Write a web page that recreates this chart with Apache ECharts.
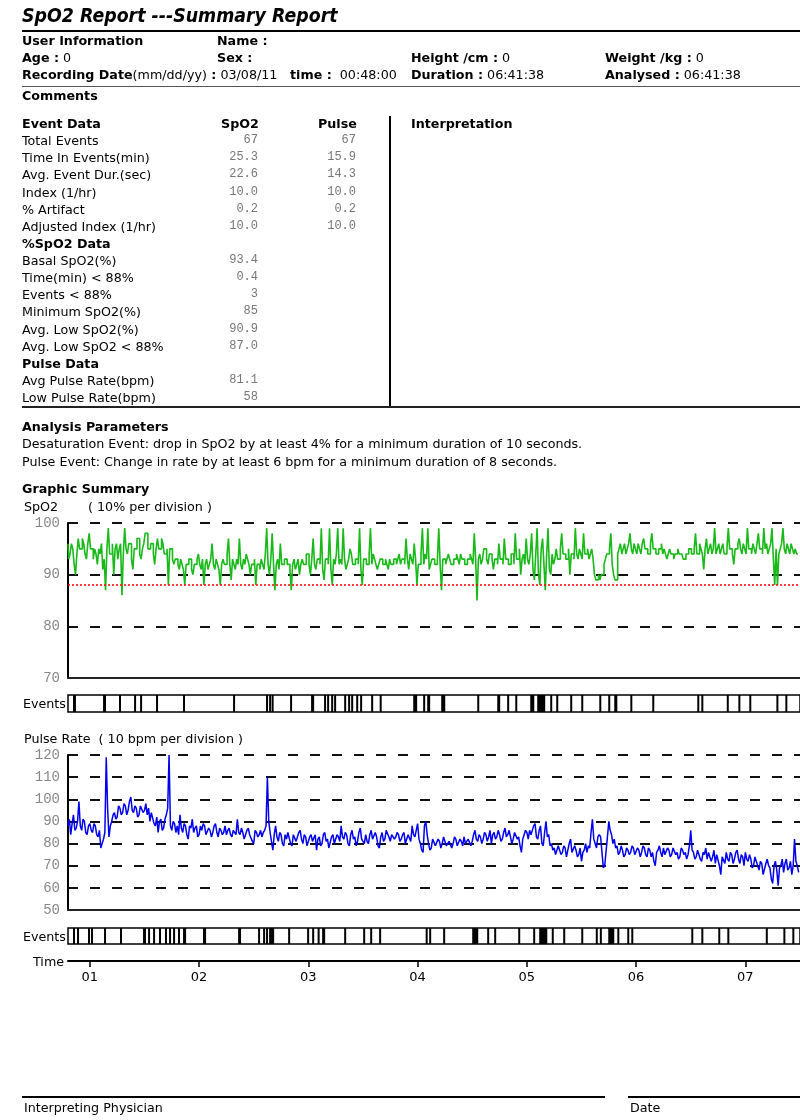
<!DOCTYPE html>
<html>
<head>
<meta charset="utf-8">
<script src="https://cdn.jsdelivr.net/npm/echarts@6/dist/echarts.min.js"></script>
<style>
body { margin: 0; background: #fff; }
#page { position: relative; width: 800px; height: 1120px; overflow: hidden; }
#chart { position: absolute; left: 0; top: 0; width: 800px; height: 1120px; }
.t { position: absolute; font-family: 'DejaVu Sans', Verdana, sans-serif; font-size: 12.7px; line-height: 14px; white-space: pre; color: #000; }
.b { font-weight: bold; }
.v { position: absolute; font-family: 'Liberation Mono', 'DejaVu Sans Mono', monospace; font-size: 12px; line-height: 14px; color: #777; text-align: right; width: 60px; }
.ln { position: absolute; background: #000; }
</style>
</head>
<body>
<div id="page">
<div id="chart"></div>

<div class="t b" style="left:22px;top:4px;font-size:19px;line-height:22px;font-style:italic;transform:scaleX(0.915);transform-origin:left top;">SpO2 Report ---Summary Report</div>
<div class="ln" style="left:22px;top:30px;width:778px;height:2px;"></div>

<div class="t b" style="left:22px;top:34px;">User Information</div>
<div class="t b" style="left:217px;top:34px;">Name :</div>
<div class="t" style="left:22px;top:51px;"><b>Age :</b> 0</div>
<div class="t b" style="left:217px;top:51px;">Sex :</div>
<div class="t" style="left:411px;top:51px;"><b>Height /cm :</b> 0</div>
<div class="t" style="left:605px;top:51px;"><b>Weight /kg :</b> 0</div>
<div class="t" style="left:22px;top:68px;"><b>Recording Date</b>(mm/dd/yy)<b> :</b> 03/08/11</div>
<div class="t" style="left:290px;top:68px;"><b>time :</b>  00:48:00</div>
<div class="t" style="left:411px;top:68px;"><b>Duration :</b> 06:41:38</div>
<div class="t" style="left:605px;top:68px;"><b>Analysed :</b> 06:41:38</div>
<div class="ln" style="left:22px;top:86px;width:778px;height:1px;background:#555;"></div>
<div class="t b" style="left:22px;top:89px;">Comments</div>

<div id="table"></div>
<div class="t b" style="left:221px;top:117px;">SpO2</div>
<div class="t b" style="left:318px;top:117px;">Pulse</div>
<div class="t b" style="left:411px;top:117px;">Interpretation</div>
<div class="ln" style="left:389px;top:116px;width:2px;height:291px;"></div>
<div class="ln" style="left:22px;top:406px;width:778px;height:2px;background:#222;"></div>

<div class="t b" style="left:22px;top:420px;">Analysis Parameters</div>
<div class="t" style="left:22px;top:437px;">Desaturation Event: drop in SpO2 by at least 4% for a minimum duration of 10 seconds.</div>
<div class="t" style="left:22px;top:455px;">Pulse Event: Change in rate by at least 6 bpm for a minimum duration of 8 seconds.</div>

<div class="t b" style="left:22px;top:482px;">Graphic Summary</div>
<div class="t" style="left:24px;top:500px;">SpO2</div>
<div class="t" style="left:88px;top:500px;">( 10% per division )</div>
<div class="t" style="left:23px;top:697px;">Events</div>
<div class="t" style="left:24px;top:732px;">Pulse Rate  ( 10 bpm per division )</div>
<div class="t" style="left:23px;top:930px;">Events</div>
<div class="t" style="left:33px;top:955px;">Time</div>

<div class="ln" style="left:22px;top:1096px;width:583px;height:2px;"></div>
<div class="ln" style="left:628px;top:1096px;width:172px;height:2px;"></div>
<div class="t" style="left:24px;top:1101px;">Interpreting Physician</div>
<div class="t" style="left:630px;top:1101px;">Date</div>
</div>

<script>
// summary table
var tableLabels = ['Event Data', 'Total Events', 'Time In Events(min)', 'Avg. Event Dur.(sec)', 'Index (1/hr)',
	'% Artifact', 'Adjusted Index (1/hr)', '%SpO2 Data', 'Basal SpO2(%)', 'Time(min) < 88%', 'Events < 88%',
	'Minimum SpO2(%)', 'Avg. Low SpO2(%)', 'Avg. Low SpO2 < 88%', 'Pulse Data', 'Avg Pulse Rate(bpm)', 'Low Pulse Rate(bpm)'];
var tableBold = [0, 7, 14];
var spo2Column = ['', '67', '25.3', '22.6', '10.0', '0.2', '10.0', '', '93.4', '0.4', '3', '85', '90.9', '87.0', '', '81.1', '58'];
var pulseColumn = ['', '67', '15.9', '14.3', '10.0', '0.2', '10.0', '', '', '', '', '', '', '', '', '', ''];

// recording starts 00:48, one sample every 45 s
var startHour = 0.8;
var sampleStep = 0.0125;
var endHour = 7.5;

var spo2Values = [
	96, 93, 94, 96, 95, 92, 90, 94, 97, 95, 95, 97, 96, 94, 93, 96, 98, 95, 95, 93,
	95, 94, 92, 95, 94, 96, 91, 93, 87, 95, 99, 94, 94, 96, 90, 95, 96, 93, 95, 96,
	86, 94, 99, 95, 94, 96, 96, 93, 91, 95, 95, 97, 97, 94, 93, 95, 96, 98, 98, 95,
	95, 96, 96, 94, 92, 95, 97, 95, 95, 97, 96, 94, 94, 95, 88, 95, 95, 93, 92, 93,
	93, 92, 91, 93, 92, 91, 88, 92, 92, 93, 93, 91, 90, 92, 92, 93, 94, 92, 91, 93,
	88, 92, 93, 91, 92, 93, 96, 92, 91, 93, 92, 91, 88, 92, 93, 92, 92, 94, 97, 92,
	89, 93, 92, 91, 93, 92, 97, 92, 91, 93, 92, 94, 93, 92, 90, 92, 92, 93, 88, 92,
	92, 91, 93, 92, 91, 94, 99, 92, 90, 93, 98, 92, 87, 92, 93, 91, 96, 92, 92, 93,
	93, 92, 92, 91, 87, 92, 93, 91, 92, 93, 90, 92, 93, 92, 92, 94, 94, 92, 90, 93,
	97, 92, 91, 93, 93, 92, 99, 91, 89, 93, 93, 92, 99, 91, 88, 93, 92, 94, 99, 92,
	93, 92, 99, 93, 91, 92, 93, 95, 94, 92, 92, 93, 93, 92, 99, 91, 88, 93, 93, 92,
	92, 94, 99, 92, 94, 93, 92, 91, 92, 93, 93, 92, 92, 93, 92, 91, 93, 92, 92, 93,
	93, 92, 93, 94, 92, 93, 93, 92, 97, 93, 91, 94, 93, 92, 96, 93, 88, 92, 92, 94,
	99, 92, 94, 93, 99, 91, 92, 93, 93, 92, 92, 93, 99, 92, 87, 93, 93, 92, 93, 94,
	93, 92, 92, 93, 93, 94, 93, 92, 94, 93, 93, 92, 92, 93, 93, 94, 93, 92, 98, 93,
	85, 93, 94, 92, 93, 95, 95, 93, 92, 94, 94, 93, 91, 93, 93, 92, 96, 93, 93, 92,
	97, 93, 93, 92, 92, 94, 94, 92, 98, 93, 93, 95, 90, 93, 94, 92, 97, 93, 92, 94,
	98, 91, 89, 94, 99, 90, 88, 95, 97, 92, 87, 94, 99, 91, 90, 94, 92, 93, 95, 93,
	93, 95, 98, 94, 94, 93, 93, 95, 90, 94, 94, 93, 99, 94, 93, 95, 94, 93, 98, 94,
	94, 95, 93, 94, 95, 93, 90, 89, 89, 90, 89, 90, 90, 92, 93, 94, 94, 95, 98, 92,
	90, 89, 89, 94, 95, 96, 94, 95, 96, 94, 95, 96, 98, 95, 94, 96, 95, 94, 96, 95,
	94, 96, 97, 95, 95, 94, 94, 96, 98, 95, 95, 94, 94, 95, 95, 96, 94, 95, 94, 93,
	94, 95, 94, 94, 93, 94, 94, 95, 94, 94, 94, 93, 93, 94, 94, 95, 95, 94, 94, 95,
	98, 94, 94, 96, 95, 94, 91, 95, 97, 94, 95, 96, 94, 95, 99, 94, 95, 96, 94, 95,
	96, 94, 94, 95, 99, 95, 95, 94, 92, 95, 95, 96, 97, 95, 94, 96, 95, 94, 99, 95,
	95, 94, 96, 95, 94, 96, 98, 95, 95, 94, 99, 95, 96, 94, 95, 96, 99, 93, 88, 95,
	88, 94, 95, 96, 99, 95, 94, 96, 95, 94, 96, 95, 94, 95, 94, 94
];

var pulseValues = [
	88, 91, 84, 89, 93, 86, 87, 90, 99, 88, 86, 91, 90, 85, 84, 88, 89, 86, 85, 89,
	88, 84, 83, 86, 78, 80, 82, 85, 119, 96, 83, 88, 90, 93, 94, 91, 92, 97, 96, 93,
	94, 98, 97, 93, 95, 99, 101, 95, 94, 97, 96, 92, 93, 97, 97, 94, 95, 98, 93, 96,
	90, 94, 94, 89, 88, 92, 85, 90, 91, 86, 87, 91, 93, 96, 120, 88, 86, 90, 89, 85,
	88, 84, 93, 87, 85, 89, 88, 84, 82, 88, 87, 91, 85, 87, 88, 83, 84, 88, 86, 89,
	88, 84, 84, 87, 86, 83, 85, 88, 89, 85, 83, 87, 86, 84, 85, 88, 84, 86, 87, 84,
	83, 86, 86, 84, 91, 85, 84, 87, 85, 82, 82, 86, 87, 84, 84, 81, 80, 86, 85, 83,
	84, 86, 83, 85, 86, 88, 110, 90, 85, 81, 77, 84, 88, 83, 81, 85, 84, 80, 79, 84,
	82, 85, 85, 80, 79, 84, 84, 81, 81, 85, 86, 82, 80, 84, 83, 79, 79, 83, 84, 81,
	81, 84, 77, 82, 83, 79, 80, 84, 85, 81, 82, 78, 78, 83, 84, 80, 80, 84, 83, 81,
	88, 83, 82, 85, 84, 80, 79, 84, 86, 82, 83, 79, 81, 85, 87, 82, 82, 80, 84, 81,
	80, 84, 86, 82, 82, 85, 83, 79, 78, 83, 85, 81, 82, 86, 86, 83, 81, 84, 84, 82,
	83, 85, 84, 81, 82, 84, 85, 80, 80, 84, 84, 81, 88, 84, 83, 86, 89, 82, 80, 77,
	76, 88, 90, 84, 80, 77, 78, 82, 82, 79, 79, 82, 81, 78, 80, 83, 83, 79, 79, 81,
	81, 78, 80, 83, 82, 79, 79, 82, 81, 79, 83, 80, 80, 82, 82, 79, 81, 84, 86, 82,
	81, 84, 83, 80, 82, 85, 84, 81, 83, 86, 80, 84, 85, 82, 83, 86, 84, 81, 82, 85,
	87, 83, 84, 86, 83, 80, 82, 85, 85, 82, 83, 79, 76, 82, 84, 86, 85, 82, 86, 84,
	84, 88, 89, 83, 82, 86, 88, 80, 79, 85, 90, 83, 84, 79, 80, 77, 78, 75, 77, 79,
	79, 75, 76, 79, 78, 74, 77, 80, 82, 76, 76, 79, 77, 74, 75, 78, 72, 76, 77, 80,
	76, 79, 78, 85, 91, 82, 80, 78, 83, 84, 83, 76, 69, 70, 70, 83, 90, 86, 84, 80,
	82, 78, 79, 75, 76, 79, 77, 74, 75, 78, 77, 75, 76, 79, 78, 75, 75, 78, 77, 74,
	76, 79, 78, 75, 74, 78, 77, 74, 76, 72, 70, 76, 77, 79, 76, 74, 78, 75, 75, 78,
	77, 74, 75, 78, 78, 75, 76, 73, 74, 78, 77, 75, 76, 73, 75, 79, 86, 77, 76, 73,
	74, 77, 77, 73, 72, 76, 75, 78, 73, 76, 76, 72, 74, 77, 71, 75, 75, 70, 66, 74,
	74, 71, 76, 73, 72, 76, 75, 71, 73, 76, 77, 73, 71, 75, 74, 70, 76, 73, 72, 75,
	73, 69, 70, 74, 74, 70, 68, 72, 71, 66, 66, 71, 73, 70, 69, 64, 62, 70, 72, 68,
	61, 69, 70, 73, 67, 71, 73, 68, 69, 72, 66, 70, 82, 72, 70, 67
];

// events as [start hour, end hour]
var spo2Events = [
	[0.855, 0.882], [1.130, 1.157], [1.276, 1.276], [1.414, 1.414], [1.469, 1.469], [1.615, 1.615],
	[1.862, 1.862], [2.320, 2.320], [2.622, 2.622], [2.650, 2.650], [2.673, 2.673], [2.842, 2.842],
	[3.034, 3.062], [3.153, 3.153], [3.181, 3.199], [3.218, 3.218], [3.245, 3.263], [3.337, 3.346],
	[3.373, 3.373], [3.401, 3.419], [3.447, 3.447], [3.483, 3.483], [3.584, 3.584], [3.662, 3.662],
	[3.969, 4.005], [4.060, 4.060], [4.097, 4.124], [4.225, 4.262], [4.555, 4.555], [4.738, 4.765],
	[4.829, 4.829], [4.903, 4.903], [5.040, 5.077], [5.104, 5.177], [5.223, 5.223], [5.278, 5.278],
	[5.406, 5.406], [5.507, 5.507], [5.672, 5.672], [5.754, 5.754], [5.809, 5.837], [5.956, 5.956],
	[6.157, 6.157], [6.569, 6.569], [6.606, 6.606], [6.839, 6.839], [6.945, 6.945], [7.045, 7.045],
	[7.293, 7.293], [7.375, 7.375]
];
var pulseEvents = [
	[0.855, 0.855], [0.892, 0.892], [0.992, 0.992], [1.020, 1.020], [1.139, 1.139], [1.285, 1.285],
	[1.496, 1.523], [1.542, 1.542], [1.588, 1.588], [1.642, 1.642], [1.697, 1.697], [1.734, 1.734],
	[1.771, 1.771], [1.816, 1.816], [1.862, 1.890], [2.045, 2.073], [2.366, 2.393], [2.549, 2.549],
	[2.595, 2.595], [2.622, 2.622], [2.650, 2.696], [2.824, 2.824], [2.998, 3.016], [3.044, 3.062],
	[3.094, 3.094], [3.135, 3.163], [3.337, 3.337], [3.511, 3.511], [3.575, 3.575], [3.657, 3.657],
	[4.083, 4.083], [4.115, 4.115], [4.243, 4.243], [4.509, 4.564], [4.646, 4.646], [4.710, 4.710],
	[4.930, 4.930], [5.067, 5.067], [5.122, 5.196], [5.237, 5.237], [5.342, 5.342], [5.507, 5.507],
	[5.640, 5.640], [5.677, 5.677], [5.754, 5.809], [5.837, 5.837], [5.928, 5.928], [5.965, 5.965],
	[6.514, 6.514], [6.606, 6.606], [6.761, 6.761], [6.844, 6.844], [7.196, 7.196], [7.357, 7.357],
	[7.439, 7.439]
];

var hourTicks = [1, 2, 3, 4, 5, 6, 7];
var desatLimit = 88;

// table text
var tableBox = document.getElementById('table');
var html = '';
for (var i = 0; i < tableLabels.length; i++) {
	var rowTop = Math.round(117 + i * 17.125);
	var bold = tableBold.indexOf(i) >= 0 ? ' b' : '';
	html += '<div class="t' + bold + '" style="left:22px;top:' + rowTop + 'px;">' + tableLabels[i].replace(/</g, '&lt;') + '</div>';
	if (spo2Column[i]) html += '<div class="v" style="left:198px;top:' + (rowTop - 1) + 'px;">' + spo2Column[i] + '</div>';
	if (pulseColumn[i]) html += '<div class="v" style="left:296px;top:' + (rowTop - 1) + 'px;">' + pulseColumn[i] + '</div>';
}
tableBox.innerHTML = html;

function series(values) {
	var out = [];
	for (var i = 0; i < values.length; i++) {
		out.push([startHour + i * sampleStep, values[i]]);
	}
	return out;
}

function renderEvent(params, api) {
	var a = api.coord([api.value(0), 0]);
	var b = api.coord([api.value(1), 0]);
	var cs = params.coordSys;
	var w = Math.max(b[0] - a[0], 2);
	return {
		type : 'rect',
		shape : { x : a[0] - 1, y : cs.y, width : w, height : cs.height },
		style : { fill : '#000' }
	};
}

var dash = { color : '#111', width : 2, type : [ 10, 12 ] };
var tickFont = { color : '#888', fontFamily : 'Liberation Mono', fontSize : 14, margin : 8 };

var hiddenX = function(idx) {
	return {
		type : 'value', gridIndex : idx, min : startHour, max : endHour,
		axisLine : { show : idx === 0 || idx === 2, onZero : false, lineStyle : { color : '#222', width : 2 } },
		axisTick : { show : false }, axisLabel : { show : false }, splitLine : { show : false }
	};
};

var chart = echarts.init(document.getElementById('chart'), null, { renderer : 'canvas' });
var option = {
	animation : false,
	backgroundColor : 'transparent',
	grid : [
		{ left : 68, top : 523, width : 732, height : 155 },
		{ left : 68, top : 695, width : 732, height : 17, show : true, borderColor : '#000', borderWidth : 1.5 },
		{ left : 68, top : 755, width : 732, height : 155 },
		{ left : 68, top : 928, width : 732, height : 16, show : true, borderColor : '#000', borderWidth : 1.5 }
	],
	xAxis : [
		hiddenX(0), hiddenX(1), hiddenX(2),
		{
			type : 'value', gridIndex : 3, min : startHour, max : endHour, position : 'bottom', offset : 17,
			axisLine : { show : true, onZero : false, lineStyle : { color : '#000', width : 2 } },
			axisTick : { show : true, customValues : hourTicks, length : 6, lineStyle : { color : '#000', width : 1.5 } },
			axisLabel : {
				customValues : hourTicks, color : '#000', fontFamily : 'DejaVu Sans', fontSize : 13, margin : 10,
				formatter : function(v) { return (v < 10 ? '0' : '') + v; }
			},
			splitLine : { show : false }
		}
	],
	yAxis : [
		{
			type : 'value', gridIndex : 0, min : 70, max : 100, interval : 10,
			axisLine : { show : true, lineStyle : { color : '#000', width : 2 } },
			axisTick : { show : false }, axisLabel : tickFont,
			splitLine : { show : true, lineStyle : dash }
		},
		{ type : 'value', gridIndex : 1, min : 0, max : 1, show : false },
		{
			type : 'value', gridIndex : 2, min : 50, max : 120, interval : 10,
			axisLine : { show : true, lineStyle : { color : '#000', width : 2 } },
			axisTick : { show : false }, axisLabel : tickFont,
			splitLine : { show : true, lineStyle : dash }
		},
		{ type : 'value', gridIndex : 3, min : 0, max : 1, show : false }
	],
	series : [
		{
			name : 'SpO2', type : 'line', xAxisIndex : 0, yAxisIndex : 0,
			data : series(spo2Values), step : 'middle', symbol : 'none',
			lineStyle : { color : '#19b919', width : 1.6 },
			markLine : {
				silent : true, symbol : 'none', label : { show : false },
				lineStyle : { color : '#ff0000', type : [ 2, 2 ], width : 1.5 },
				data : [ { yAxis : desatLimit, lineStyle : { color : '#ff0000' } } ]
			}
		},
		{
			name : 'SpO2 events', type : 'custom', xAxisIndex : 1, yAxisIndex : 1,
			renderItem : renderEvent, encode : { x : [ 0, 1 ] }, data : spo2Events
		},
		{
			name : 'Pulse', type : 'line', xAxisIndex : 2, yAxisIndex : 2,
			data : series(pulseValues), symbol : 'none',
			lineStyle : { color : '#0000ee', width : 1.5 }
		},
		{
			name : 'Pulse events', type : 'custom', xAxisIndex : 3, yAxisIndex : 3,
			renderItem : renderEvent, encode : { x : [ 0, 1 ] }, data : pulseEvents
		}
	]
};
chart.setOption(option);
</script>
</body>
</html>
